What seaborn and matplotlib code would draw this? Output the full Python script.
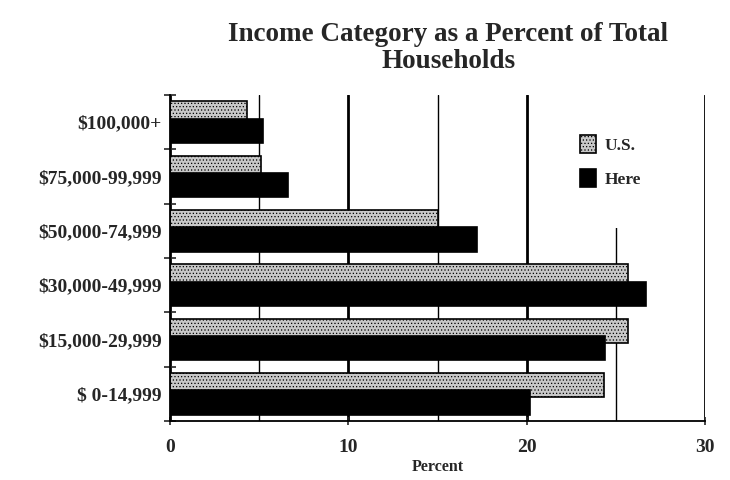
import pandas as pd
import numpy as np
import seaborn as sns
import matplotlib.pyplot as plt

categories = ['$100,000+', '$75,000-99,999', '$50,000-74,999',
              '$30,000-49,999', '$15,000-29,999', '$ 0-14,999']
us_pct = [4.3, 5.1, 15.0, 25.7, 25.7, 24.3]
here_pct = [5.2, 6.6, 17.2, 26.7, 24.4, 20.2]
series = ['U.S.', 'Here']

df = pd.DataFrame({
    'Category': categories * 2,
    'Percent': us_pct + here_pct,
    'Series': [series[0]] * len(categories) + [series[1]] * len(categories),
})

sns.set_style('ticks')
plt.rcParams['font.family'] = ['Liberation Serif', 'DejaVu Serif']
plt.rcParams['font.weight'] = 'bold'
plt.rcParams['hatch.linewidth'] = 0.5

fig = plt.figure(figsize=(7.3, 4.8), dpi=100)
ax = fig.add_axes([0.233, 0.123, 0.733, 0.679])

sns.barplot(data=df, x='Percent', y='Category', hue='Series', orient='h',
            palette={'U.S.': '#c8c8c8', 'Here': 'black'},
            width=0.64, gap=-0.4, edgecolor='black', linewidth=1.2,
            legend=False, ax=ax)

# stippled look for the U.S. bars
for p in ax.containers[0]:
    p.set_hatch('.....')

ax.set_xlim(0, 30)
ax.set_ylim(5.5, -0.5)
ax.set_xticks([0, 10, 20, 30])
ax.set_xticks([5, 15, 25], minor=True)
ax.set_yticks(np.arange(-0.5, 6, 1), minor=True)
ax.grid(axis='x', which='major', color='black', lw=2)
ax.grid(axis='x', which='minor', color='black', lw=1)
ax.set_axisbelow(True)

ax.tick_params(axis='y', which='major', length=0, labelsize=14, pad=6)
ax.tick_params(axis='y', which='minor', length=8, direction='inout', width=1.2)
ax.tick_params(axis='x', which='major', length=6, direction='inout', width=1.2,
               labelsize=14, pad=10)
ax.tick_params(axis='x', which='minor', length=0)

for s in ['left', 'bottom']:
    ax.spines[s].set_linewidth(1.3)
    ax.spines[s].set_color('black')
ax.spines['top'].set_visible(False)
ax.spines['right'].set_visible(False)

ax.set_ylabel('')
ax.set_xlabel('Percent', fontsize=11.5, fontweight='bold', labelpad=2)

leg = ax.legend(ax.containers[:], series, loc='upper right',
                bbox_to_anchor=(0.955, 1.0), borderaxespad=0,
                frameon=True, fancybox=False, framealpha=1,
                edgecolor='white', fontsize=12.5,
                handlelength=0.9, handleheight=1.2, labelspacing=0.9,
                borderpad=2.3, handletextpad=0.5)
leg.get_frame().set_linewidth(0)

fig.text(0.614, 0.955, 'Income Category as a Percent of Total\nHouseholds',
         ha='center', va='top', fontsize=19.5, fontweight='bold',
         multialignment='center', linespacing=1.1)

fig.savefig('out.png', dpi=100)
